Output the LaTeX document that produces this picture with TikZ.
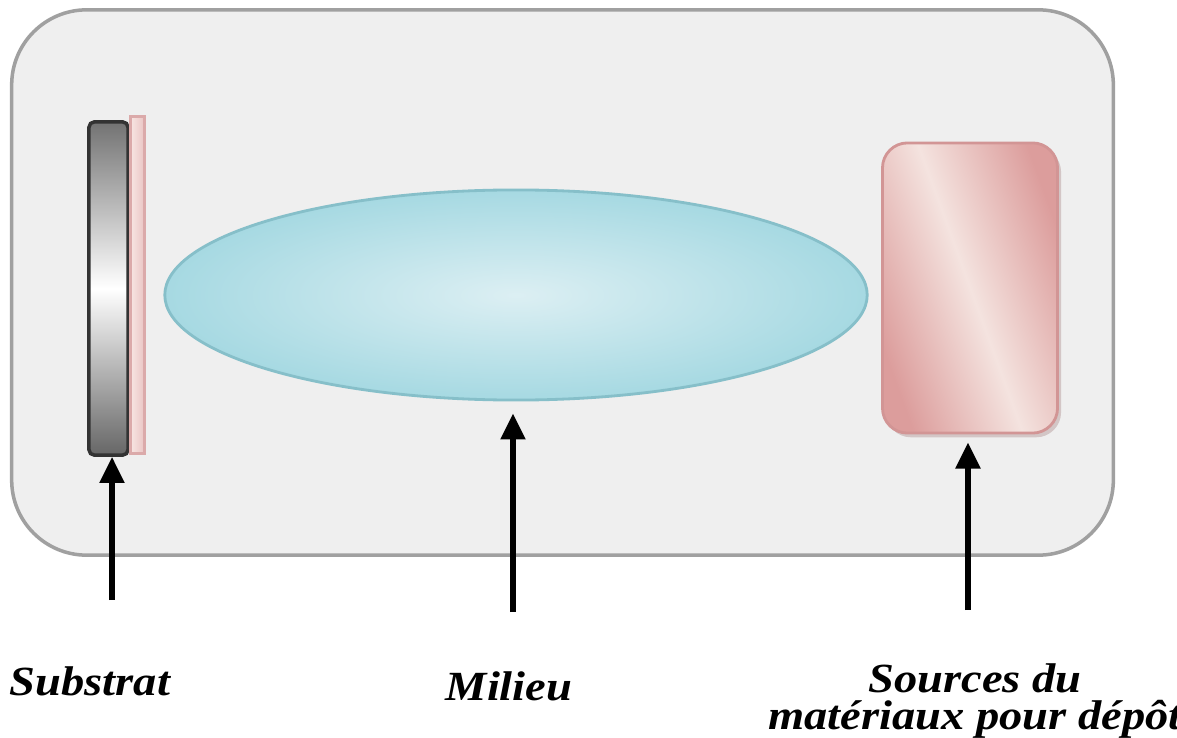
\documentclass[tikz,border=0pt]{standalone}
\usepackage{fontspec}
\setmainfont{Liberation Serif}
\newfontfamily\etiqfont{Liberation Serif}[FakeStretch=1.12]
\usetikzlibrary{shapes.geometric, arrows.meta, shadows, positioning}
\definecolor{fond}{HTML}{EFEFEF}
\definecolor{bordfond}{HTML}{A0A0A0}
\definecolor{cyanclair}{HTML}{DCEFF3}
\definecolor{cyanfonce}{HTML}{A6D9E2}
\definecolor{cyanbord}{HTML}{86BFC9}
\definecolor{roseclair}{HTML}{F4E3DF}
\definecolor{rosefonce}{HTML}{DC9D9C}
\definecolor{rosebord}{HTML}{D29595}
\definecolor{rosepale}{HTML}{F7E6E3}
\tikzstyle{chambre} = [rectangle, rounded corners=0.75cm, minimum width=11.01cm, minimum height=5.45cm, inner sep=0pt, draw=bordfond, fill=fond, line width=1pt]
\tikzstyle{support} = [rectangle, rounded corners=1.5pt, minimum width=0.39cm, minimum height=3.33cm, inner sep=0pt, draw=black!80, line width=1pt, top color=black!55, bottom color=black!60, middle color=white]
\tikzstyle{couche} = [rectangle, minimum width=0.14cm, minimum height=3.36cm, inner sep=0pt, draw=rosebord!80, line width=0.8pt, left color=rosepale, right color=rosefonce!60]
\tikzstyle{plasma} = [ellipse, minimum width=7.02cm, minimum height=2.1cm, inner sep=0pt, draw=cyanbord, line width=0.8pt, inner color=cyanclair, outer color=cyanfonce]
\tikzstyle{cible} = [rectangle, rounded corners=0.25cm, minimum width=1.75cm, minimum height=2.9cm, inner sep=0pt, draw=rosebord, line width=0.8pt, left color=rosefonce, right color=rosefonce, middle color=roseclair, shading angle=-70, drop shadow={shadow xshift=1pt, shadow yshift=-1.2pt, fill=rosebord!70!black, opacity=0.3}]
\tikzstyle{etiquette} = [font=\etiqfont\fontsize{11.8}{10.6}\selectfont\bfseries\itshape, align=center, inner sep=0pt]
\tikzstyle{fleche} = [line width=1.5pt, -{Triangle[length=0.26cm, width=0.24cm]}]

\begin{document}
\begin{tikzpicture}[x=0.01cm, y=-0.01cm]
    \useasboundingbox (0,0) rectangle (1177,737);
    \fill[white] (0,0) rectangle (1177,737);

    % enceinte
    \node (enceinte) [chambre] at (562.5,282.5) {};

    % substrat et couche deposee
    \node (substrat) [support] at (108.5,288.5) {};
    \node (depot) [couche] at (137.5,285) {};
    \node (milieu) [plasma] at (516,295) {};
    \node (source) [cible] at (970,288) {};

    % etiquettes
    \node (lsub) [etiquette, anchor=base] at (90,695) {Substrat};
    \node (lmil) [etiquette, anchor=base] at (509,700) {Milieu};
    \node (lsrc) [etiquette] at (975,701) {Sources du\\mat\'eriaux pour d\'ep\^ot};

    \coordinate (qsub) at (112,600);
    \coordinate (qmil) at (513,612);
    \coordinate (qsrc) at (968,610);

    \draw [fleche] (qsub) -- (qsub |- substrat.south);
    \draw [fleche] (qmil) -- ([yshift=-0.12cm]qmil |- milieu.south);
    \draw [fleche] (qsrc) -- ([yshift=-0.08cm]qsrc |- source.south);
\end{tikzpicture}
\end{document}
